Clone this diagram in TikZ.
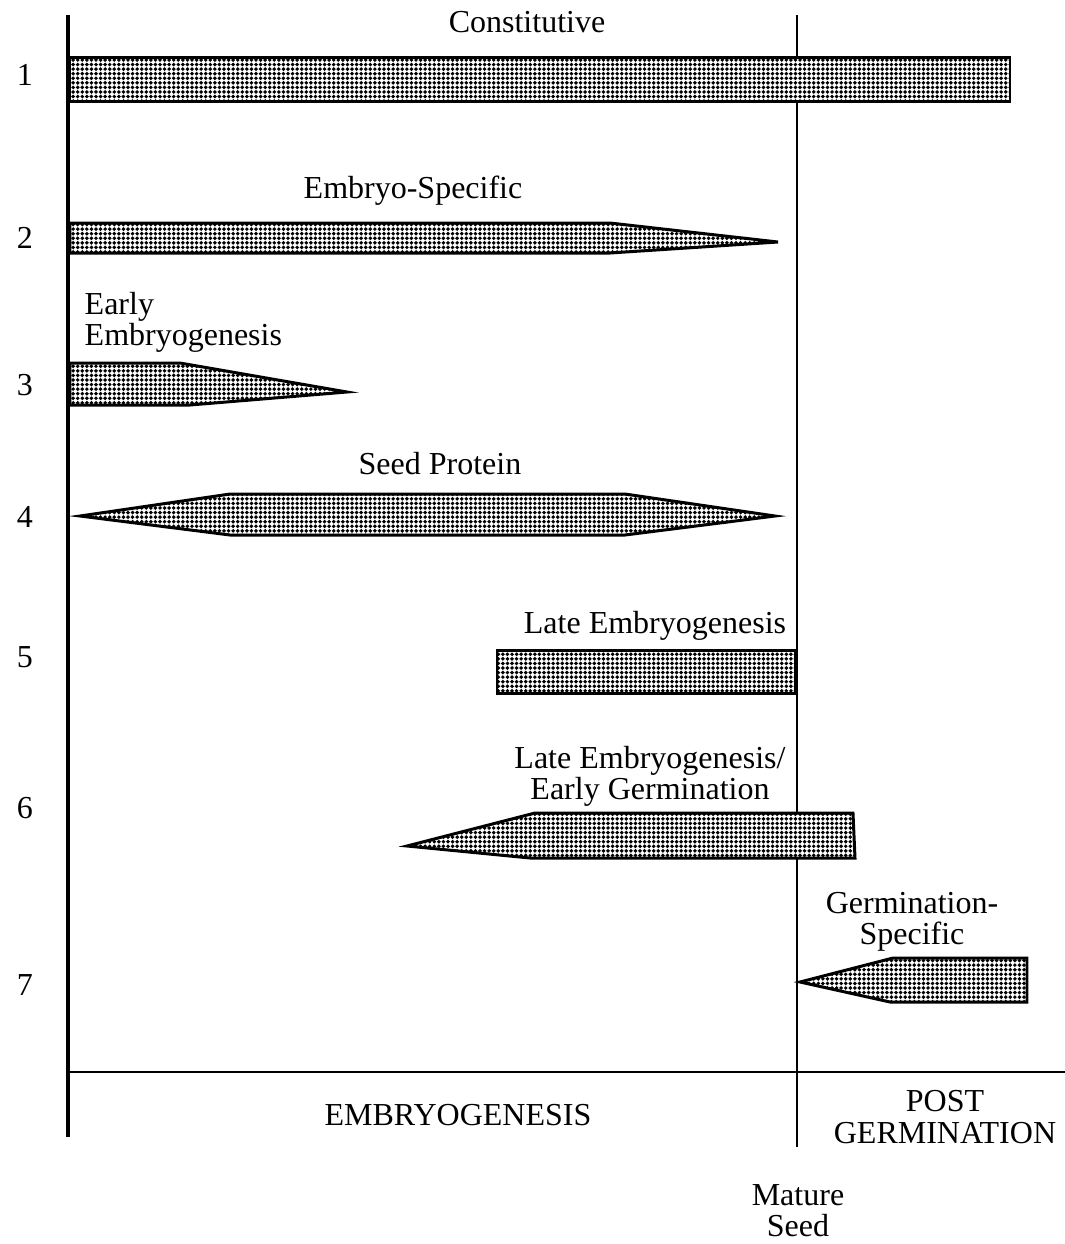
\documentclass[tikz,border=0pt]{standalone}
\usepackage{fontspec}
\setmainfont{Liberation Serif}
\usetikzlibrary{patterns}
\usepackage{tikz}

\pgfdeclarepatternformonly{stipple}{\pgfqpoint{-0.7pt}{-0.7pt}}{\pgfqpoint{0.7pt}{0.7pt}}{\pgfqpoint{1.3pt}{1.3pt}}
{
  \pgfpathcircle{\pgfqpoint{0pt}{0pt}}{0.56pt}
  \pgfusepath{fill}
}

\begin{document}
\begin{tikzpicture}[x=0.01cm,y=-0.01cm,bar/.style={draw=black, line width=0.85pt, fill=white, postaction={pattern=stipple}}]
    \tikzset{lbl/.style={inner sep=0pt, font=\fontsize{9.1}{8.9}\selectfont, align=center}}
    \tikzset{num/.style={inner sep=0pt, font=\fontsize{9.1}{8.9}\selectfont}}
    \useasboundingbox (0,0) rectangle (1065,1244);

    % stage lines
    \draw[line width=0.75pt] (797,15) -- (797,1147);
    \draw[line width=0.7pt] (68,1072) -- (1065,1072);

    % bars
    \draw[bar] (70,57) rectangle (1010,101);
    \draw[bar] (70,223) -- (610,223) -- (778,242) -- (610,253) -- (70,253) -- cycle;
    \draw[bar] (70,363) -- (180,363) -- (347,392) -- (190,405) -- (70,405) -- cycle;
    \draw[bar] (80,516) -- (230,494) -- (625,494) -- (775,516) -- (625,535) -- (230,535) -- cycle;
    \draw[bar] (497,650) rectangle (795,693);
    \draw[bar] (407,846) -- (535,813) -- (853,813) -- (855,858) -- (530,858) -- cycle;
    \draw[bar] (800,982) -- (893,958) -- (1027,958) -- (1027,1002) -- (890,1002) -- cycle;

    % main axis
    \draw[line width=1.3pt] (68,15) -- (68,1137);

    % row numbers
    \foreach \n/\y in {1/75, 2/238, 3/385, 4/517, 5/657, 6/808, 7/985} {
    \node[num] (row\n) at (25,\y) {\n};
    }

    % bar labels
    \node[lbl] (constitutive) at (527,22) {Constitutive};
    \node[lbl] (embryospec) at (413,191) {Embryo-Specific};
    \node[lbl, align=left, anchor=west] (earlyemb) at (84,322) {Early\\Embryogenesis};
    \node[lbl] (seedprot) at (440,464) {Seed Protein};
    \node[lbl] (lateemb) at (655,626) {Late Embryogenesis};
    \node[lbl] (lateearly) at (650,776) {Late Embryogenesis/\\Early Germination};
    \node[lbl] (germspec) at (912,922) {Germination-\\Specific};

    % stage labels
    \node[lbl] (embryogenesis) at (458,1115) {EMBRYOGENESIS};
    \node[lbl] (postgerm) at (945,1117) {POST\\GERMINATION};
    \node[lbl] (matureseed) at (798,1211) {Mature\\Seed};
\end{tikzpicture}
\end{document}
